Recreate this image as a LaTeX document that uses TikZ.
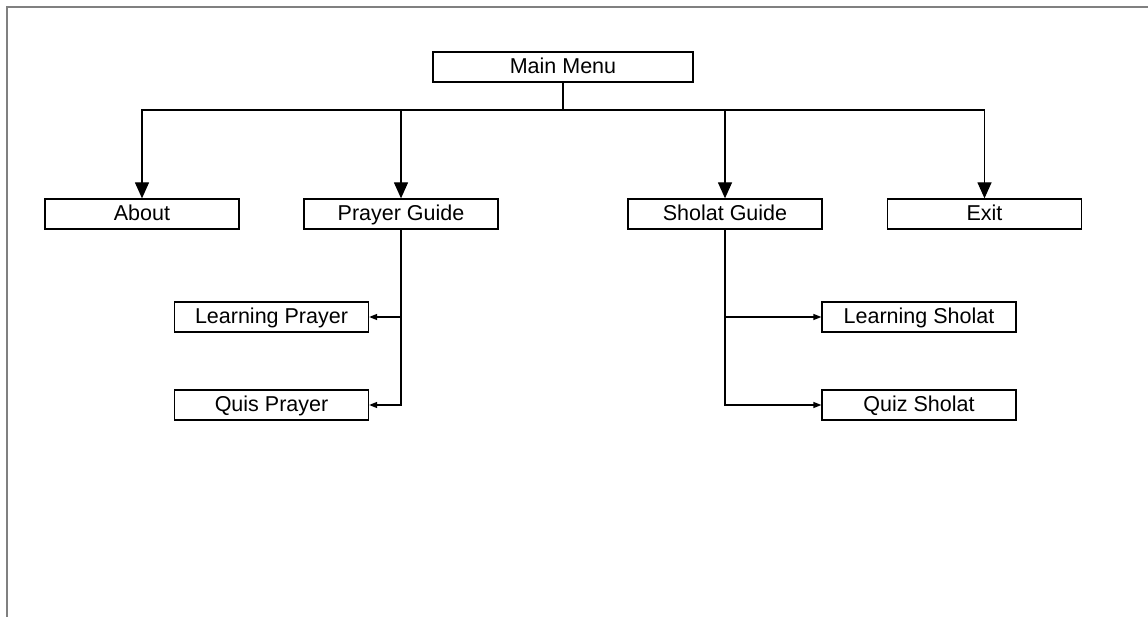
\documentclass[tikz,border=0pt]{standalone}
\usepackage{fontspec}
\setmainfont{Liberation Sans}
\usetikzlibrary{arrows.meta}

\tikzset{
	menubox/.style={shape=rectangle,draw=black,fill=white,line width=1.3pt,minimum width=194pt,minimum height=30pt,inner sep=0pt,text height=16pt,text depth=3pt,font=\fontsize{21.5}{25}\selectfont},
	bigarrow/.style={line width=1.3pt,-{Triangle[width=14pt,length=16pt]}},
	smallarrow/.style={line width=1.3pt,-{Triangle[width=6pt,length=8pt]}}
}

\begin{document}
\begin{tikzpicture}[x=1pt,y=1pt]

		\useasboundingbox (0,0) rectangle (1148,-617);
		\draw[black!50,line width=2pt] (7,-617) -- (7,-7) -- (1148,-7);

		\node[menubox,minimum width=260pt] (main)    at (563, -67)   {Main Menu};
		\node[menubox] (about)   at (142, -214)   {About};
		\node[menubox] (pguide)  at (401, -214)   {Prayer Guide};
		\node[menubox] (sguide)  at (725, -214)   {Sholat Guide};
		\node[menubox] (exit)    at (984.5, -214) {Exit};
		\node[menubox] (lprayer) at (271.5, -317) {Learning Prayer};
		\node[menubox] (qprayer) at (271.5, -405) {Quis Prayer};
		\node[menubox] (lsholat) at (919, -317)   {Learning Sholat};
		\node[menubox] (qsholat) at (919, -405)   {Quiz Sholat};

		\coordinate (bus) at (563, -110);

		\draw[line width=1.3pt] (main.south) -- (bus);
		\draw[bigarrow] (bus) -| (about.north);
		\draw[bigarrow] (bus) -| (pguide.north);
		\draw[bigarrow] (bus) -| (sguide.north);
		\draw[bigarrow] (bus) -| (exit.north);

		\draw[smallarrow] (pguide.south) |- (lprayer.east);
		\draw[smallarrow] (pguide.south) |- (qprayer.east);
		\draw[smallarrow] (sguide.south) |- (lsholat.west);
		\draw[smallarrow] (sguide.south) |- (qsholat.west);

		\end{tikzpicture}
\end{document}
